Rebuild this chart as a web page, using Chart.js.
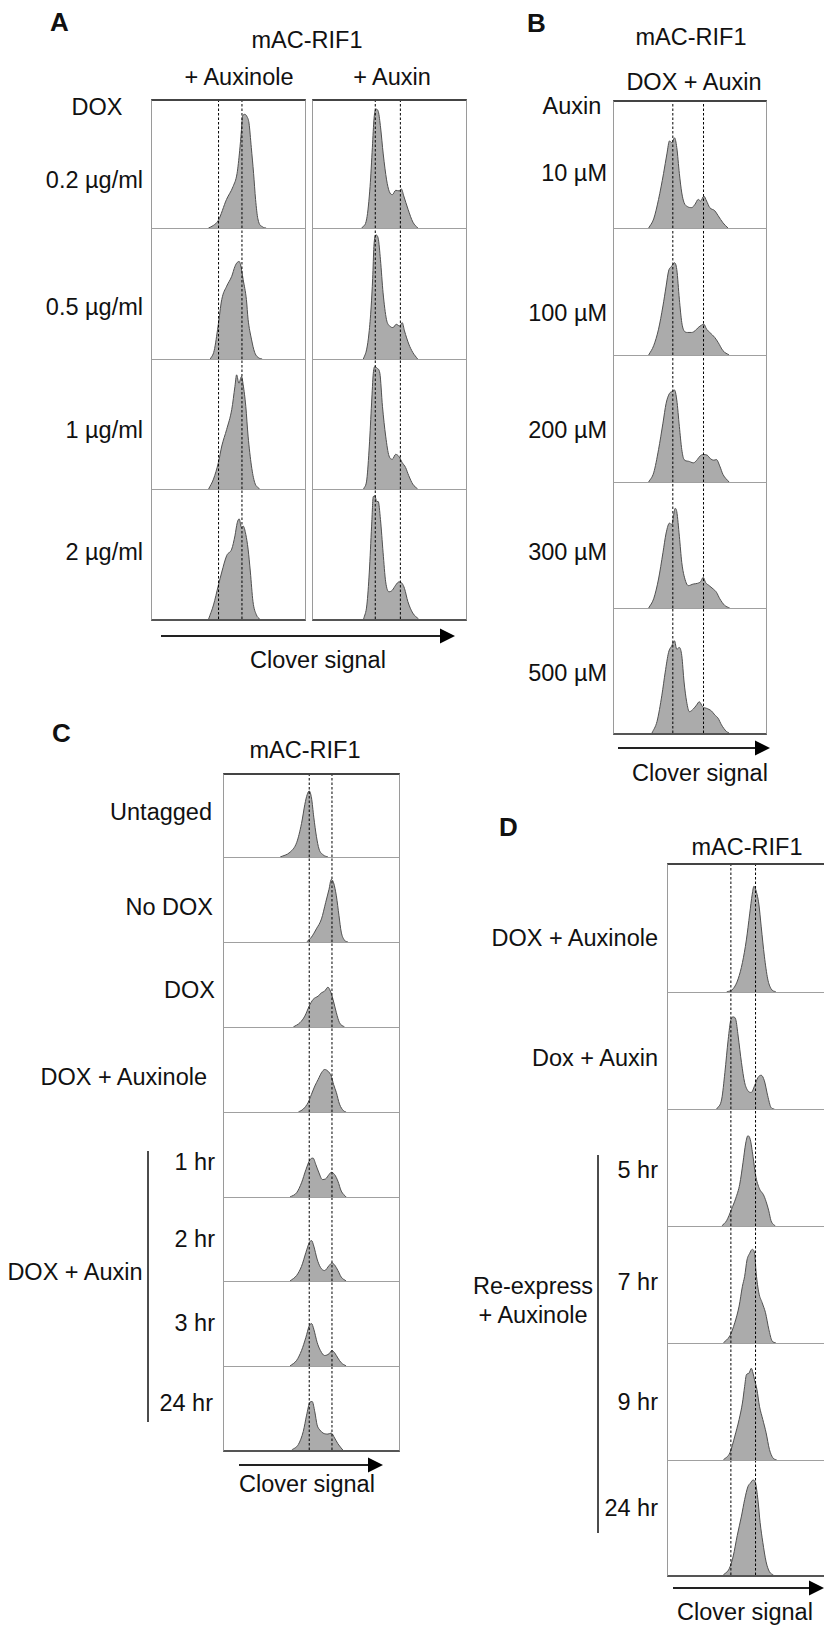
<!DOCTYPE html>
<html>
<head>
<meta charset="utf-8">
<script src="https://cdn.jsdelivr.net/npm/chart.js@4.4.1/dist/chart.umd.min.js"></script>
<style>
    body { margin: 0; width: 824px; height: 1627px; overflow: hidden; background: #fff; position: relative;
           font-family: "Liberation Sans", Arial, sans-serif; color: #111; }
    .lbl { position: absolute; font-size: 23.5px; line-height: 26px; white-space: nowrap; }
    .letter { position: absolute; font-size: 26px; line-height: 26px; font-weight: bold; }
    .box { position: absolute; box-sizing: border-box; border-left: 1px solid #9a9a9a; border-right: 1px solid #9a9a9a;
           border-bottom: 1px solid #a0a0a0; background: #fff; }
    .box canvas { position: absolute; left: 0; top: 0; }
    svg { position: absolute; left: 0; top: 0; }
</style>
</head>
<body>
<svg id="deco" width="824" height="1627"></svg>
<script>
// Row labels
const aDoses = ['0.2 µg/ml', '0.5 µg/ml', '1 µg/ml', '2 µg/ml'];
const bDoses = ['10 µM', '100 µM', '200 µM', '300 µM', '500 µM'];
const cConditions = ['Untagged', 'No DOX', 'DOX', 'DOX + Auxinole', '1 hr', '2 hr', '3 hr', '24 hr'];
const dConditions = ['DOX + Auxinole', 'Dox + Auxin', '5 hr', '7 hr', '9 hr', '24 hr'];

// Reference (dotted) positions on the Clover signal axis, 0-100
const aAuxinoleMarks = [43.5, 58.8];
const aAuxinMarks = [40.7, 57.1];
const bMarks = [38.7, 58.9];
const cMarks = [48.7, 61.7];
const dMarks = [39.8, 55.4];

// Histograms: [Clover signal, % of max count]
const aAuxinole = [
    [[36.9,0],[40.1,2],[43.3,5.9],[48.7,22.5],[53,32.7],[55.6,43],[57.3,60.9],[58.4,76.2],[59.1,87.7],[60.6,89.5],[62.1,87.7],[63.4,82.6],[64.9,63.4],[66.4,43],[67.7,22.5],[69.2,7.2],[72.4,0.8],[74.6,0]],
    [[38.1,0],[40.6,6.3],[43.2,25.4],[45.6,45.8],[48.8,56],[52.1,63.6],[54.2,71.2],[55.7,74.3],[57,75],[57.9,72.5],[59.6,61],[61.7,45.8],[62.8,30.5],[65,15.3],[67.1,5.1],[70.3,0.5],[72,0]],
    [[37,0],[40.2,7.7],[43.4,20.5],[45.6,33.3],[48.8,46.2],[52.1,61.5],[54.2,79.5],[55.3,88.5],[56.8,82],[58.5,87.2],[59.6,80.8],[61.3,64.1],[62.8,41],[65,17.9],[67.1,5.1],[70.3,0]],
    [[37,0],[40.2,10.9],[43.4,26.2],[45.6,36.4],[48.8,49.1],[52.1,54.2],[54.2,64.4],[55.7,74.6],[57,77.6],[58.5,70.8],[59.6,72],[61.3,65.6],[62.8,54.2],[64.3,36.4],[66,13.5],[68.2,3.3],[70.3,0]]
];
const aAuxin = [
    [[31.9,0],[35.1,7.2],[37.3,32.7],[38.8,63.4],[39.9,86.4],[41.2,93.6],[42.7,91.6],[44.2,78.8],[45.9,58.3],[48.1,37.9],[49.8,28.9],[51.9,26.3],[54.1,29.7],[56.3,29.2],[57.8,30.7],[59.3,25.3],[62.1,14.8],[65.3,4.6],[68.5,0]],
    [[32.9,0],[35.1,7.6],[36.6,20],[38,40],[39,62],[39.8,86.5],[41.1,95.4],[42.6,92.9],[44.1,76.3],[45.8,50.9],[48,30.5],[50.1,25.4],[52.3,24.2],[54.4,26.7],[56.6,25.4],[58.3,28],[59.8,21.6],[62.6,11.5],[65.2,5.1],[68.4,0]],
    [[33.1,0],[35.2,7.7],[36.8,33.3],[38.3,66.7],[39.4,89.7],[40.5,94.9],[41.9,93.6],[43.7,89.7],[45.4,64.1],[47.5,41],[49.7,25.6],[51.9,23.1],[54,26.9],[56.2,25.1],[58.3,20.5],[60.5,16.7],[62.6,10.3],[65.2,3.8],[68.4,0]],
    [[33.1,0],[35.2,10.9],[36.8,36.4],[38.3,72],[39.4,94.9],[40.5,95.4],[41.6,91.1],[42.6,91.1],[44.1,77.1],[45.8,51.7],[47.5,28.8],[49.7,21.1],[51.9,22.4],[54,26.2],[56.2,28.8],[58.3,27.5],[59.8,23.7],[62,13.5],[65.2,4.6],[69,0]]
];
const bAuxin = [
    [[22.8,0],[26.1,7.2],[29.3,22.7],[32.6,43.3],[34.8,58.8],[36.5,69.1],[38,67.8],[39.8,71.6],[41.3,63.9],[43,43.3],[44.6,27.8],[46.1,20.1],[48.3,17],[51.1,16.2],[53.3,18.8],[55.4,22.7],[57,21.4],[59.1,25.3],[60.9,21.4],[63,16.2],[66.3,13.7],[68.5,9.8],[71.7,4.1],[75,0]],
    [[22.8,0],[26.1,7.4],[29.3,20.5],[32.2,38.9],[34.3,54.7],[35.9,66.6],[38,70.5],[39.8,73.2],[41.3,67.9],[43,44.2],[44.6,25.8],[46.1,19.2],[48.3,17.9],[51.1,17.9],[53.3,19.2],[55.4,21.8],[57.6,23.7],[59.1,24.5],[60.9,20.5],[63,17.9],[66.3,13.9],[68.5,10],[71.7,3.4],[75.7,0]],
    [[22.8,0],[26.1,7.3],[29.3,25.7],[32.2,46.7],[34.3,62.5],[36.5,70.3],[38,71.7],[39.8,73],[41.3,65.1],[43,44.1],[44.6,25.7],[46.1,17.8],[48.9,16.5],[52.2,15.2],[54.8,17.8],[56.5,20.5],[58.7,21.8],[61.3,21.3],[63.5,18.4],[65.7,17.3],[67.4,17.8],[69.6,12.6],[71.7,6],[75.7,0]],
    [[22.8,0],[26.1,7.4],[29.3,23.2],[32.2,44.2],[34.3,60],[36.5,67.9],[38,66.6],[39.1,73.2],[40.2,79.7],[41.3,77.1],[43,57.4],[44.6,36.3],[46.1,25.8],[48.9,17.9],[52.2,19.2],[54.8,19.7],[57,21.1],[58.7,24.5],[60.2,20.5],[62.6,17.9],[65.2,15.3],[67.4,12.6],[69.6,7.4],[72.8,2.1],[76.1,0]],
    [[25,0],[28.3,9.3],[31.5,30.5],[33.7,49.1],[35.9,65],[38,70.3],[39.8,74.3],[41.3,67.6],[43,69],[44.6,62.3],[46.1,41.1],[47.8,25.2],[49.6,17.2],[52.2,19.4],[54.3,22.5],[56.1,25.2],[58.3,21.2],[60.9,19.9],[64.1,17.8],[66.3,14.6],[68.5,11.9],[70.7,6.6],[73.9,1.3],[75.7,0]]
];
const cCurves = [
    [[32.1,0],[37.7,5.8],[41.5,17.5],[44.3,40.9],[46.2,64.2],[47.5,75.9],[48.7,80.5],[50,72],[51.3,48.6],[52.8,25.3],[54.3,9.7],[56.6,2.7],[59.4,0]],
    [[47.2,0],[50,5.9],[52.8,15.7],[55.7,27.5],[58.1,47.1],[60,62.7],[61.3,74.5],[62.6,70.6],[64.2,54.9],[65.7,31.4],[67,11.8],[68.9,2],[70.8,0]],
    [[39.6,0],[43.4,5.1],[46.2,13],[48.7,24.9],[50.9,32.8],[53.8,36.8],[55.7,40.7],[57.5,42.7],[59.4,47.4],[60.8,42.7],[62.3,32.8],[64.2,17],[66,5.1],[68.9,0]],
    [[42.5,0],[45.3,3.5],[48.1,11.4],[50,21.2],[51.9,30.9],[53.8,38.8],[55.7,46.7],[57.5,50.6],[59.4,48.6],[61.3,42.7],[62.6,32.9],[64.2,23.2],[66,9.4],[68.3,1.5],[69.8,0]],
    [[37.7,0],[41.5,5.1],[44.3,16.9],[46.8,32.5],[49.1,44.3],[50.9,46.3],[52.5,38.4],[54.3,28.6],[56.2,20.8],[58.1,21.6],[60,26.7],[61.3,29.4],[63.2,26.7],[65.1,18.8],[67,7.1],[69.8,0]],
    [[37.7,0],[41.5,6.7],[44.3,17.7],[46.8,34.3],[48.7,46.1],[50,48.8],[51.3,42.1],[53.2,26.4],[55.1,16.5],[57.5,12.6],[60,18.5],[61.7,21.7],[63.2,19.3],[65.1,12.6],[67,4.7],[69.8,0]],
    [[37.7,0],[41.5,6.7],[44.3,18.4],[46.8,34.1],[48.7,47.8],[50,50.6],[51.3,43.9],[53.2,28.2],[55.1,18.4],[57.5,12.5],[60,14.5],[61.7,18.4],[63.2,15.7],[65.1,9.4],[67,3.9],[69.8,0]],
    [[38.7,0],[42.5,6.7],[45.3,22.4],[47.2,42],[49.1,57.6],[50.4,58.4],[51.9,45.9],[53.2,30.2],[54.7,24.3],[56.6,20.4],[59.4,19.2],[61.3,20.4],[63.2,14.5],[65.1,7.5],[67.9,0]]
];
const dCurves = [
    [[37.1,0],[41.3,2.6],[44.4,10.3],[47.1,23.1],[49.6,41],[51.7,61.5],[53.3,76.9],[54.4,83.3],[55.8,79.5],[57.5,69.2],[59,51.3],[61,28.2],[63.1,10.3],[65.2,2.6],[68.3,0]],
    [[30.8,0],[34,8.6],[36,31.4],[38.1,60],[39.8,77.1],[41.3,79.4],[42.9,77.1],[44.4,62.9],[46.5,40],[48.5,22.9],[50.6,15.7],[52.7,14.3],[54.8,20],[56.9,27.1],[59,29.1],[61,24.3],[63.1,11.4],[65.2,1.4],[67.3,0]],
    [[34,0],[37.1,4.6],[40.2,14.5],[42.9,24],[45.4,36],[47.5,55],[49.2,71.5],[50.6,77.8],[52.1,74.4],[53.8,60],[55.4,44],[57.9,32],[60.4,27],[62.1,21],[63.8,13],[65.2,4.6],[67.9,0]],
    [[35,0],[39.2,6.3],[42.3,17.6],[45,31.8],[47.1,48.9],[48.5,57.4],[50,71.6],[51.7,77.3],[53.3,80.7],[54.8,77.3],[55.8,60.2],[57.5,43.2],[59.6,34.7],[61.7,26.1],[63.8,11.9],[65.8,2],[68.3,0]],
    [[35,0],[39.2,6.3],[42.3,20.6],[45,34.9],[47.1,49.1],[48.5,63.4],[49.6,73.4],[51.3,74.9],[52.7,79.1],[53.8,74.9],[54.8,69.1],[56.3,60.6],[57.9,46.3],[60,34.9],[62.1,23.4],[64.2,9.1],[66.3,2],[68.8,0]],
    [[35,0],[38.8,5.7],[41.3,16.7],[43.8,34.5],[46.5,51.7],[48.5,66.1],[50.6,77.6],[52.1,80.5],[53.8,83.3],[55.4,80.5],[56.9,66.1],[58.3,46],[60,28.7],[62.1,11.5],[64.2,2.9],[66.7,0]]
];

// Layout of each column of stacked histograms (page pixels)
const columns = [
    { left: 151, width: 155, rows: [99, 229, 360, 490, 621], curves: aAuxinole, marks: aAuxinoleMarks },
    { left: 312, width: 155, rows: [99, 229, 360, 490, 621], curves: aAuxin, marks: aAuxinMarks },
    { left: 613, width: 154, rows: [100, 229, 356, 483, 609, 735], curves: bAuxin, marks: bMarks },
    { left: 223, width: 177, rows: [773, 858, 943, 1028, 1113, 1198, 1282, 1367, 1452], curves: cCurves, marks: cMarks },
    { left: 667, width: 160, rows: [863, 993, 1110, 1227, 1344, 1461, 1577], curves: dCurves, marks: dMarks }
];

// Text helpers
function addText(txt, x, y, align, cls) {
    const el = document.createElement('div');
    el.className = cls || 'lbl';
    el.textContent = txt;
    el.style.top = (y - 13) + 'px';
    if (align === 'right') {
        el.style.right = (824 - x) + 'px';
    } else if (align === 'center') {
        el.style.left = x + 'px';
        el.style.transform = 'translateX(-50%)';
    } else {
        el.style.left = x + 'px';
    }
    document.body.appendChild(el);
}

function svgEl(tag, attrs) {
    const el = document.createElementNS('http://www.w3.org/2000/svg', tag);
    Object.keys(attrs).forEach(k => el.setAttribute(k, attrs[k]));
    document.getElementById('deco').appendChild(el);
}

function arrow(x1, x2, y) {
    svgEl('line', { x1: x1, y1: y, x2: x2 - 12, y2: y, stroke: '#222', 'stroke-width': 2 });
    svgEl('polygon', { points: `${x2 - 15},${y - 7.5} ${x2},${y} ${x2 - 15},${y + 7.5}`, fill: '#000' });
}

function bracket(x, y1, y2) {
    svgEl('line', { x1: x, y1: y1, x2: x, y2: y2, stroke: '#111', 'stroke-width': 1.5 });
}

// One small chart per histogram box
function drawHistogram(col, i) {
    const top = col.rows[i];
    const height = col.rows[i + 1] - top;
    const first = i === 0;
    const last = i === col.rows.length - 2;

    const box = document.createElement('div');
    box.className = 'box';
    box.style.left = col.left + 'px';
    box.style.top = top + 'px';
    box.style.width = col.width + 'px';
    box.style.height = height + 'px';
    if (first) box.style.borderTop = '2px solid #444';
    if (last) box.style.borderBottom = '2px solid #555';
    document.body.appendChild(box);

    const innerH = height - (first ? 2 : 0) - (last ? 2 : 1);
    const canvas = document.createElement('canvas');
    canvas.width = col.width - 2;
    canvas.height = innerH;
    canvas.style.width = (col.width - 2) + 'px';
    canvas.style.height = innerH + 'px';
    box.appendChild(canvas);

    const markSets = col.marks.map(m => ({
        data: [{ x: m, y: 0 }, { x: m, y: 100 }],
        borderColor: '#000',
        borderWidth: 1,
        borderDash: [2.5, 2],
        pointRadius: 0,
        tension: 0,
        fill: false
    }));

    new Chart(canvas, {
        type: 'line',
        data: {
            datasets: markSets.concat([{
                data: col.curves[i].map(p => ({ x: p[0], y: p[1] })),
                borderColor: '#505050',
                borderWidth: 1,
                backgroundColor: '#ababab',
                fill: 'origin',
                pointRadius: 0,
                cubicInterpolationMode: 'monotone'
            }])
        },
        options: {
            responsive: false,
            animation: false,
            events: [],
            layout: { padding: 0 },
            plugins: { legend: { display: false }, tooltip: { enabled: false } },
            scales: {
                x: { type: 'linear', min: 0, max: 100, display: false },
                y: { min: 0, max: 100, display: false }
            }
        }
    });
}

columns.forEach(col => {
    for (let i = 0; i < col.rows.length - 1; i++) {
        drawHistogram(col, i);
    }
});

// Panel A
addText('A', 50, 22, 'left', 'letter');
addText('mAC-RIF1', 307, 40, 'center');
addText('+ Auxinole', 239, 77, 'center');
addText('+ Auxin', 392, 77, 'center');
addText('DOX', 97, 107, 'center');
[180, 307, 430, 552].forEach((y, i) => addText(aDoses[i], 143, y, 'right'));
arrow(161, 455, 636);
addText('Clover signal', 318, 660, 'center');

// Panel B
addText('B', 527, 23, 'left', 'letter');
addText('mAC-RIF1', 691, 37, 'center');
addText('DOX + Auxin', 694, 82, 'center');
addText('Auxin', 572, 106, 'center');
[173, 313, 430, 552, 673].forEach((y, i) => addText(bDoses[i], 607, y, 'right'));
arrow(618, 770, 748);
addText('Clover signal', 700, 773, 'center');

// Panel C
addText('C', 52, 733, 'left', 'letter');
addText('mAC-RIF1', 305, 750, 'center');
const cRight = [212, 213, 215, 207, 215, 215, 215, 213];
[812, 907, 990, 1077, 1162, 1239, 1323, 1403].forEach((y, i) => addText(cConditions[i], cRight[i], y, 'right'));
bracket(148, 1151, 1422);
addText('DOX + Auxin', 75, 1272, 'center');
arrow(239, 383, 1465);
addText('Clover signal', 307, 1484, 'center');

// Panel D
addText('D', 499, 827, 'left', 'letter');
addText('mAC-RIF1', 747, 847, 'center');
[938, 1058, 1170, 1282, 1402, 1508].forEach((y, i) => addText(dConditions[i], 658, y, 'right'));
bracket(598, 1155, 1533);
addText('Re-express', 533, 1286, 'center');
addText('+ Auxinole', 533, 1315, 'center');
arrow(673, 824, 1588);
addText('Clover signal', 745, 1612, 'center');
</script>
</body>
</html>
